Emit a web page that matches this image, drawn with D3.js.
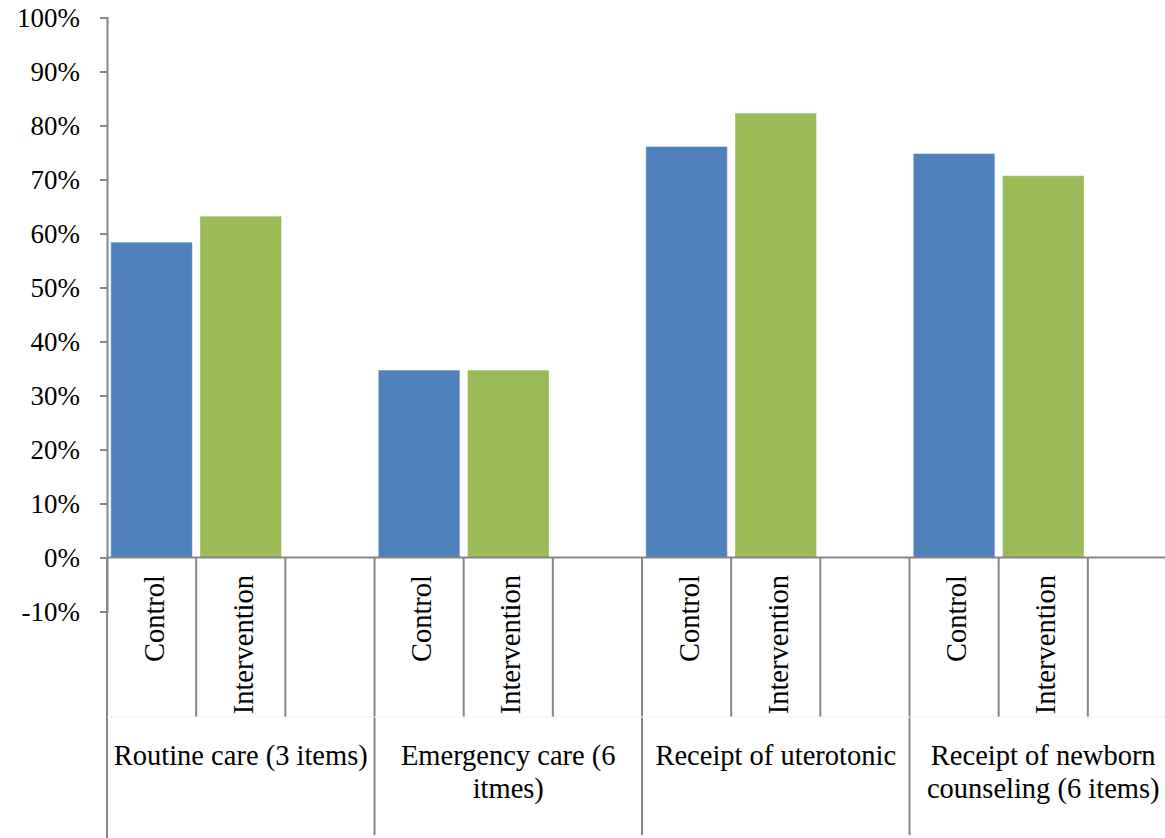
<!DOCTYPE html>
<html>
<head>
<meta charset="utf-8">
<script src="https://cdn.jsdelivr.net/npm/d3@7"></script>
<style>
  html, body { margin: 0; padding: 0; background: #fff; }
  svg { display: block; }
  svg text { font-family: "Times New Roman", "Liberation Serif", Times, serif; fill: #000; }
</style>
</head>
<body>
<svg id="chart" width="1165" height="838"></svg>
<script>
// Outer categories (wrapped lines) and the inner slots of each group
const groups = ["Routine care (3 items)", "Emergency care (6 itmes)", "Receipt of uterotonic", "Receipt of newborn counseling (6 items)"];
const groupLines = [
  ["Routine care (3 items)"],
  ["Emergency care (6", "itmes)"],
  ["Receipt of uterotonic"],
  ["Receipt of newborn", "counseling (6 items)"]
];
const slots = ["Control", "Intervention", ""];
const arms = ["Control", "Intervention"];

// Share of items received, per group
const controlValues = [0.584, 0.347, 0.761, 0.748];
const interventionValues = [0.632, 0.347, 0.823, 0.707];

const yTicks = [-0.1, 0, 0.1, 0.2, 0.3, 0.4, 0.5, 0.6, 0.7, 0.8, 0.9, 1.0];
const armColors = ["#4f81bd", "#9bbb59"];

const svg = d3.select("#chart");
const axisColor = "#868686";
const serif = '"Times New Roman", "Liberation Serif", Times, serif';
const tickFont = "27px";
const labelFont = "28.5px";

const left = 107, right = 1177;
const y = d3.scaleLinear().domain([-0.1, 1.0]).range([611.5, 17.5]);
const x0 = d3.scaleBand().domain(groups).range([left, right]);
const x1 = d3.scaleBand().domain(slots).range([0, x0.bandwidth()]);
const barPad = 0.086;

const rows = groups.map((g, i) => [
  { group: g, arm: arms[0], value: controlValues[i], color: armColors[0] },
  { group: g, arm: arms[1], value: interventionValues[i], color: armColors[1] }
]).flat();

// Bars
svg.append("g").selectAll("rect").data(rows).join("rect")
  .attr("x", d => x0(d.group) + x1(d.arm) + x1.bandwidth() * barPad / 2)
  .attr("width", x1.bandwidth() * (1 - barPad))
  .attr("y", d => y(d.value))
  .attr("height", d => y(0) - y(d.value))
  .attr("fill", d => d.color)
  .attr("stroke", "#ffffff")
  .attr("stroke-opacity", 0.35)
  .attr("stroke-width", 1);

// Value axis
const pct = v => (v < 0 ? "-" : "") + Math.round(Math.abs(v) * 100) + "%";
const yAxis = svg.append("g")
  .attr("transform", `translate(${left},0)`)
  .call(d3.axisLeft(y).tickValues(yTicks).tickFormat(pct).tickSize(7).tickPadding(20));
yAxis.select(".domain").attr("stroke", axisColor).attr("stroke-width", 2);
yAxis.selectAll(".tick line").attr("stroke", axisColor).attr("stroke-width", 2);
yAxis.attr("font-family", null).attr("font-size", null);
yAxis.selectAll(".tick text")
  .style("font-family", serif)
  .style("font-size", tickFont)
  .attr("fill", "#000");

// Category axis baseline at zero
svg.append("line")
  .attr("x1", left).attr("x2", right)
  .attr("y1", y(0)).attr("y2", y(0))
  .attr("stroke", axisColor).attr("stroke-width", 2);

// Left axis continues down through the category label rows
svg.append("line")
  .attr("x1", left).attr("x2", left)
  .attr("y1", y(0)).attr("y2", 838)
  .attr("stroke", axisColor).attr("stroke-width", 2);

const innerBottom = 717, outerBottom = 835;

// Inner slot separators
const innerSeps = groups.flatMap(g => slots.slice(1).map(s => x0(g) + x1(s)));
svg.append("g").selectAll("line").data(innerSeps).join("line")
  .attr("x1", d => d).attr("x2", d => d)
  .attr("y1", y(0)).attr("y2", innerBottom)
  .attr("stroke", axisColor).attr("stroke-width", 2);

// Group separators
svg.append("g").selectAll("line").data(groups.slice(1)).join("line")
  .attr("x1", d => x0(d)).attr("x2", d => x0(d))
  .attr("y1", y(0)).attr("y2", outerBottom)
  .attr("stroke", axisColor).attr("stroke-width", 2);

// Faint divider between the two label rows
svg.append("line")
  .attr("x1", left).attr("x2", right)
  .attr("y1", innerBottom).attr("y2", innerBottom)
  .attr("stroke", "#f2f2f2").attr("stroke-width", 1);

// Rotated inner labels
const innerLabels = groups.flatMap(g => arms.map(a => ({ g, a })));
svg.append("g").selectAll("text").data(innerLabels).join("text")
  .attr("transform", d => `translate(${x0(d.g) + x1(d.a) + x1.bandwidth() / 2 + 12},575) rotate(-90)`)
  .attr("text-anchor", "end")
  .style("font-family", serif)
  .style("font-size", labelFont)
  .text(d => d.a);

// Group labels
const gl = svg.append("g").selectAll("text").data(groups).join("text")
  .attr("x", d => x0(d) + x0.bandwidth() / 2)
  .attr("y", 765)
  .attr("text-anchor", "middle")
  .style("font-family", serif)
  .style("font-size", labelFont);
gl.selectAll("tspan").data((d, i) => groupLines[i]).join("tspan")
  .attr("x", function () { return d3.select(this.parentNode).attr("x"); })
  .attr("dy", (d, i) => i === 0 ? 0 : 33)
  .text(d => d);
</script>
</body>
</html>
